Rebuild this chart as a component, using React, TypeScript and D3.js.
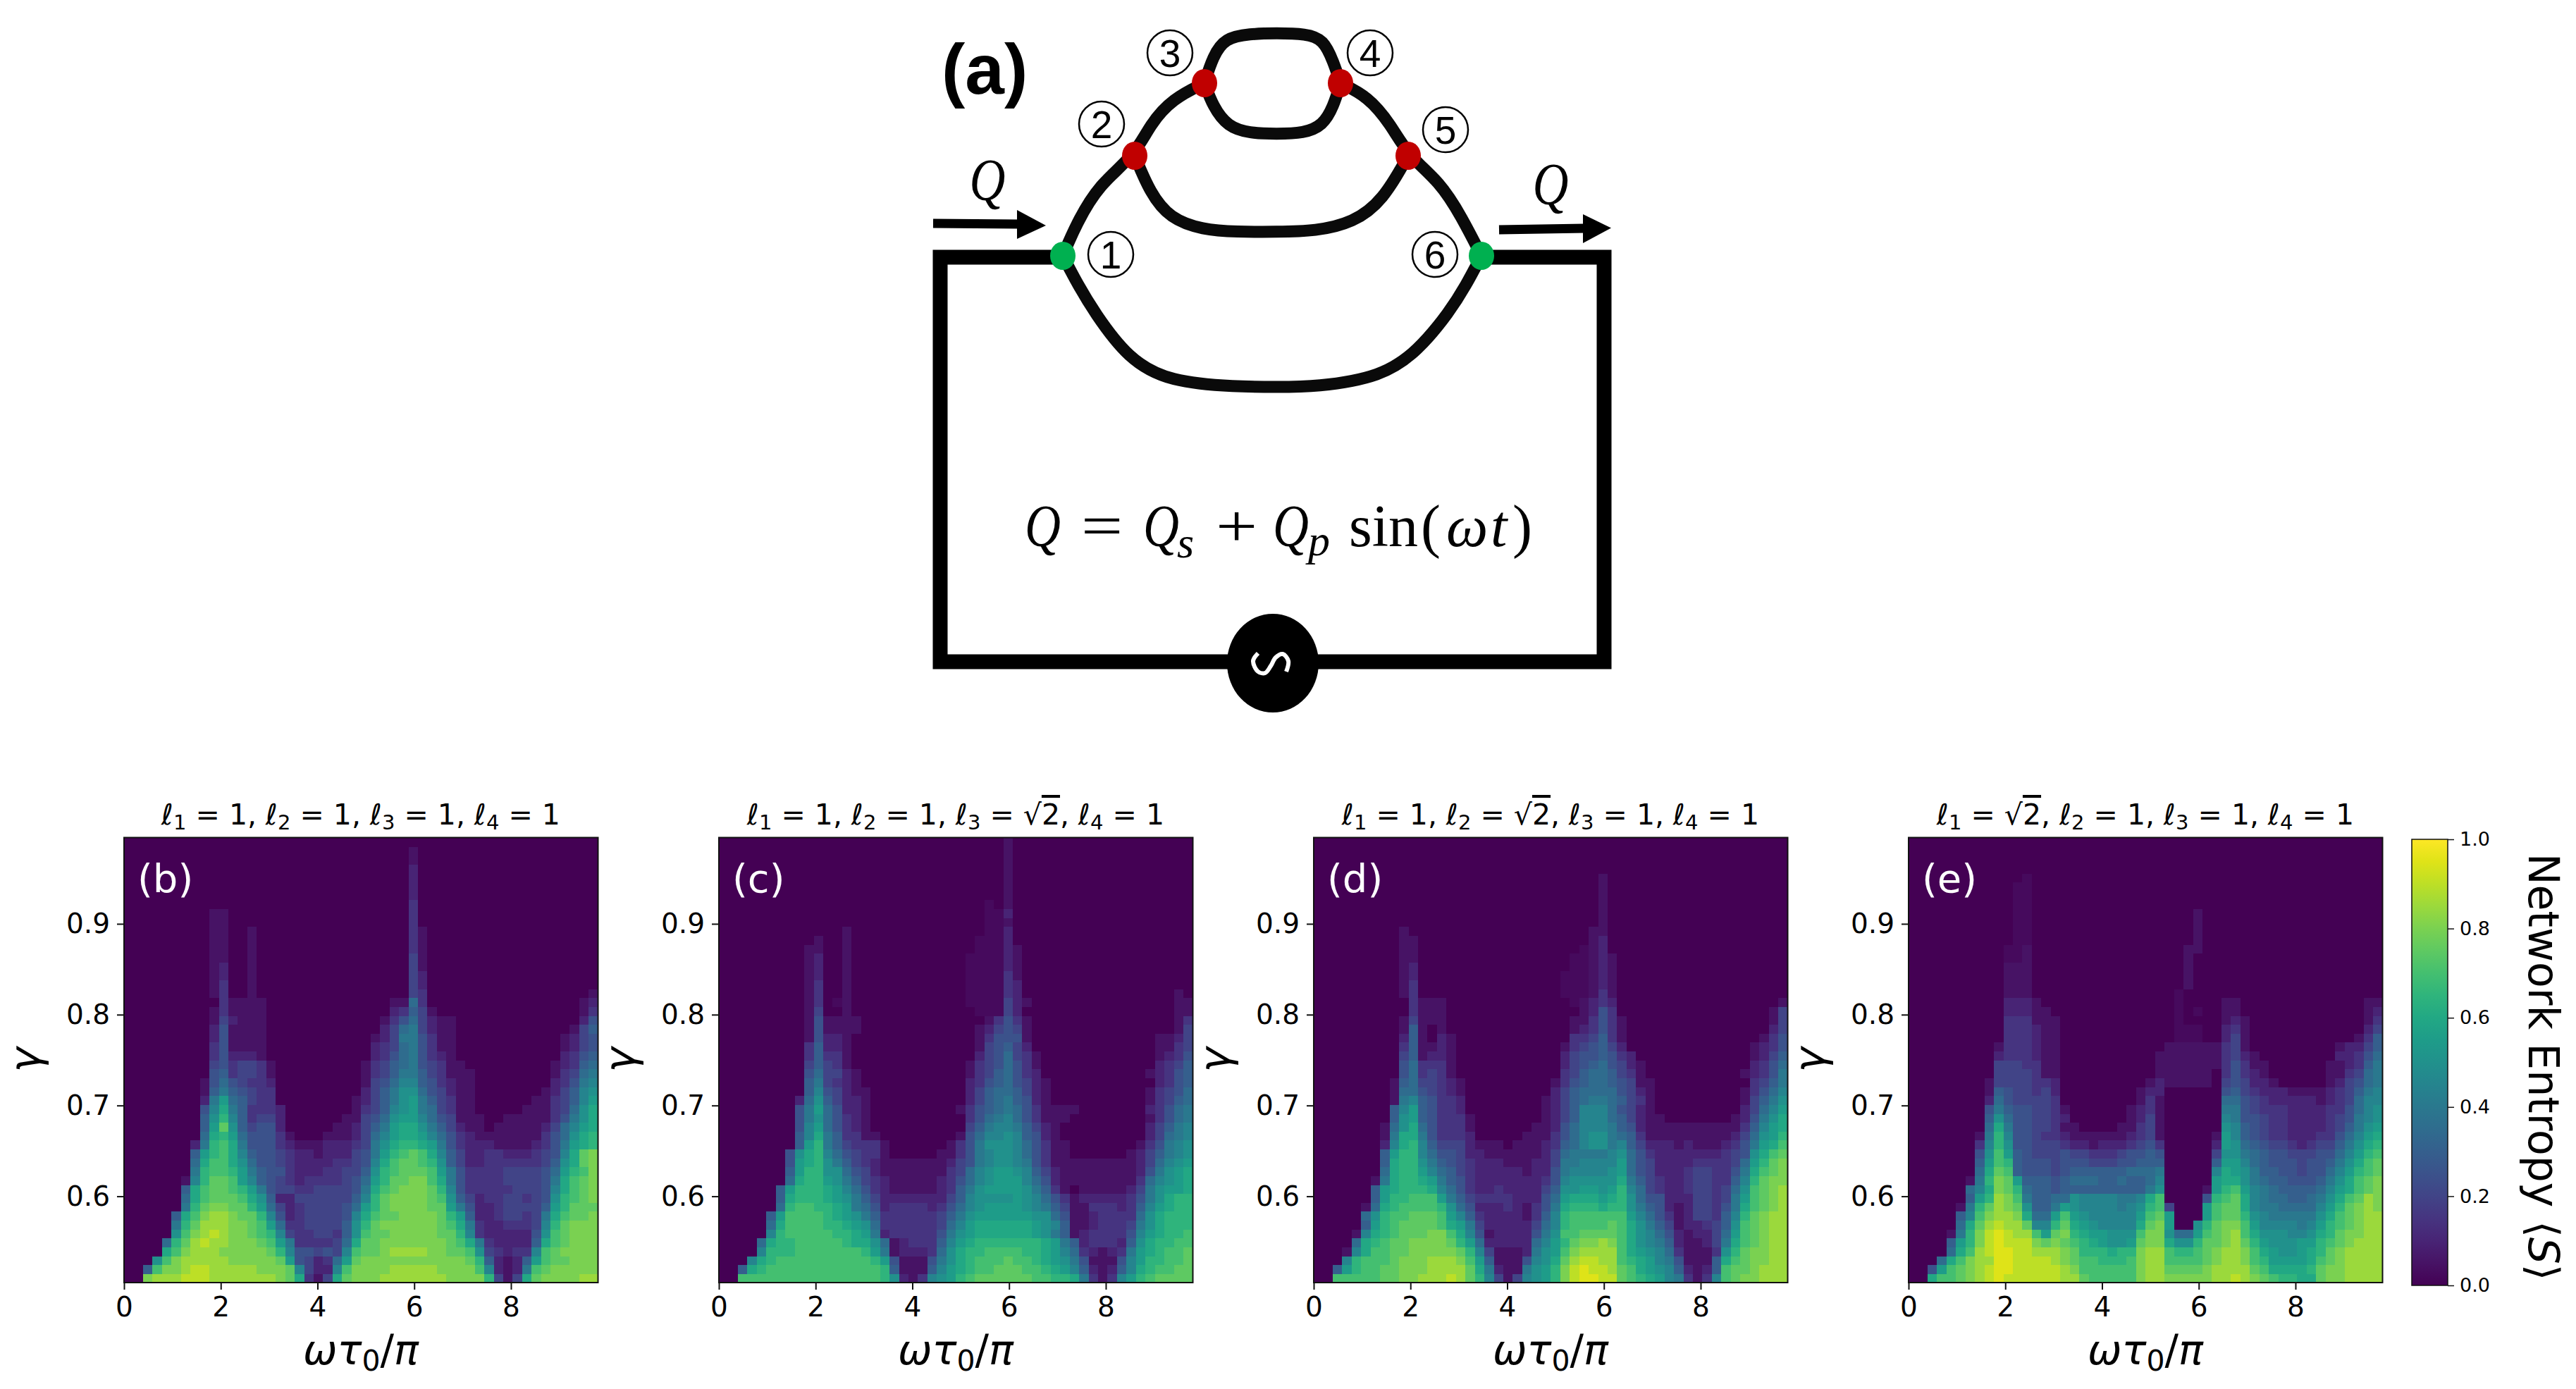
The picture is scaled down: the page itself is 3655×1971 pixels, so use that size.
import { useEffect, useRef } from 'react'
import * as d3 from 'd3'

const W = 3655
const H = 1971

// entropy levels: '.'=0, ','=.025, a=.05, b=.10 ... s=.95, one letter per cell
const LEVELS = '.abcdefghijklmnopqrs'
const NCOL = 50
const NROW = 50

// rows go from the bottom of the map (gamma 0.505) upward, groups of 10 columns
const ROWS_B = [
  '..pqqqrrrq qqqqqqpolc adlopppqqq qqqqppppmd adloppppqq',
  '..fnppqrrq qqqqpppoid bbinppppqq qqqppppnib abhnoppppp',
  '...jnpqqqq qpppppoked bcgkoppppp ppppppomfb abfknooppp',
  '....lnpqqq pppppomiee dedinoopqq qqppoonjdc bccinopppp',
  '....gmoqrq qppponkhcc ccdglooppp pppponlhcb bbbflnoppp',
  '.....jnpqr qpponmidcc ddcfjnoopp pppoomicbb bbbejnoppp',
  '.....hmoqq qpponkgccd dddfjmoppp ppponlhcbb cccdimoppp',
  '.....flnpq qpoomiebcd dddeilnoop pppomkfbbc ddcdhlnoop',
  '......hmop poomkgdbcd dddegkmopp ppookhebbc ddddfkmooo',
  '......glno oonljfbbdd ddddfimopp pponjfdbcc ddcdejmnop',
  '......flno onmkheddcc ddddehlnop ppomiecccc cdddeilnop',
  '......aimo onkifedcbc cccdegkmoo ppnlhecccc ddddehlnop',
  '.......hmn nmkhfeecbb bccddfjmno oonkhecccc ddddegkmnp',
  '.......gln nljgeedcbb bbccdeilno onmjfdbbcc ccccdfjlop',
  '.......fkm nlifeedcbb abbbdehkmn onlifdbbcc bbbcdeilop',
  '.......bhm nlheeecbaa abbbcdhjlm mlkhecbbba aaabcehklm',
  '........gl mkgeeeca.. .aaabdgikl lkigecbaaa aaaacegjlm',
  '........fk ojfdeeb... ..aabdfhkl ljhfdbaa.a aaaabdgikl',
  '........fj mifcddb... ...aadegjk kigedaaa.. aaaaacehjl',
  '........ei lhfcccb... ....acdfij khgdcaa... ..aaacdgjl',
  '........bh kgfdcc.... ....abdfhj khfdcaa... ...aacdfik',
  '........af hfedcc.... .....bdfhj jgedbaa... ....abdfij',
  '........ae gedccb.... .....adegi ifecbaa... .....bcehi',
  '.........e fcddca.... .....acdfh hfdcaaa... .....acdgh',
  '.........d ecddca.... .....acdfg hedcaa.... .....abcfg',
  '.........c ebbba..... ......bceg hecba..... ......bcef',
  '.........c eaaaa..... ......bcdg hecaa..... ......abde',
  '.........b eaaaa..... ......abdh hecaa..... ......abde',
  '.........b eaaaa..... .......bdg hdbaa..... .......adf',
  '.........a dbaaa..... .......ace gdbaa..... ........be',
  '.........a caaaa..... ........bc fda....... ........ac',
  '. caaaa..... ........aa gc........ ........ab',
  '.........a c..a...... . dc........ .........a',
  '.........a c..a...... . db........ .',
  '.........a b..a...... . db........ .',
  '.........a b..a...... . da........ .',
  '.........a a..a...... . da........ .',
  '.........a a..a...... . ca........ .',
  '.........a a..a...... . ca........ .',
  '.........a a..a...... . ca........ .',
  '.........a a......... . c......... .',
  '.........a a......... . c......... .',
  '. . . c......... .',
  '. . . b......... .',
  '. . . b......... .',
  '. . . b......... .',
  '. . . b......... .',
  '. . . a......... .',
  '. . . a......... .',
  '. . . . .',
]

const ROWS_C = [
  '..nnnnnnnn nnnnnnnmjb acijkmnooo ooonnmmlhc acikmnoooo',
  '..flmnnnnn nnnnnnnmfa aafiklmnno oonnmlkifb abfilmnnoo',
  '...ilmnnnn nnnnnnmkea aaehjlmnnn onnmlkjhea aaeikmmnno',
  '....immmnn nnnnnmkhab bbcgjlmmnn nnmmlkigcb abchklmnno',
  '....glmmnn nnnmlljgab cccfiklmmm mmmmlkhfbc ccbfjlmmnn',
  '.....imnnn nnmmlkhbcc cccehjklll lllkjhfabc ccceiklmmn',
  '.....glnnn nmmlkjgccc cccdgiklll lllkjifaab cccdhjlmmm',
  '.....fknnn nmlkjhfccc cccdfhjkkk kkkjjgeaab ccccgjlmmm',
  '......gmnn mmlkhgebcc ccbcegijkk kkjihfdaac ccbcfiklmm',
  '......flmm mlkjhfdbbb bbbbdfijjj jkjigecabb bbbcehjlmm',
  '......fkmm mlkigecbaa aaabcfhjkk kkjhfca.aa aaabdhjkkl',
  '.......glm mkjhfdcbaa aaabcegijk kkigebaaaa aaaacgijkl',
  '.......fkm mjjgedbaaa aaaacdgijk kjifdbaaaa aaaabehjkl',
  '.......ekl mjhfdcbaaa aaaabdehij jihecaaaaa aaaabdgijk',
  '.......ejl migedcca.. ...aacehij jigecaa... ...abdfhij',
  '........fk mhfdccca.. ....acehjj jigecaa... ....acehij',
  '........fi lhfccaa... .....aegii jifeba.... .....bdghi',
  '........ei kgecba.... ......dfhi ihfdba.... .....bdfhi',
  '........eh jgecba.... ......cegh igecaaa... .....acegh',
  '........eh kgebba.... .....acefg hgecaaaa.. .....bcegh',
  '........bg jfdbba.... ......bdfg hfeba..... .....acdfg',
  '.........f iedbaa.... ......bdfg gfdba..... .....acdeg',
  '.........f hdcba..... ......bcef gedba..... ......bcef',
  '.........e gddba..... ......acdf gecb...... .....abcef',
  '.........d fdca...... ......acde geca...... ......bcdf',
  '.........c fcca...... .......bde gdca...... ......abce',
  '.........c fbba...... .......ade fdb....... ......aacd',
  '.........a ebba...... .......ace eea....... ......aabd',
  '.........a eaaaa..... .......abd eda....... ........ad',
  '.........a eaaaa..... ........ac eca....... ........ac',
  '.........a d..a...... .......,,, db........ ........aa',
  '.........a c.,a...... ......,,,, dba....... ........aa',
  '.........a c..a...... ......,,,, cb........ ........a.',
  '.........a c..a...... ......,,,, cb........ .',
  '.........a b..a...... ......,,,, ca........ .',
  '.........a b..a...... ......,,,, ba........ .',
  '.........a b..a...... ......,,,, ba........ .',
  '.........a a..a...... .......,,, ba........ .',
  '. a..a...... .......,,, b......... .',
  '. ...a...... ........,, b......... .',
  '. . ........,, a......... .',
  '. . ........,, b......... .',
  '. . ........,. a......... .',
  '. . . a......... .',
  '. . . a......... .',
  '. . . a......... .',
  '. . . a......... .',
  '. . . a......... .',
  '. . . a......... .',
  '. . . a......... .',
]

const ROWS_D = [
  '..nnnnnoop pqqqrqomid adijkmprss rronmlkihc acinoppqqq',
  '..fkmnnoop ppqqqqolhb aahjkmprsr rqonlkjifb abfnoopqqq',
  '...imnnnop ppqqqpnkfa aaeijloqrr qqnmlkihea aaflnoppqq',
  '...ailnnoo pppppomida aabhjknpqq qqnlkjigca aacjmoppqq',
  '....glmnoo ppppomkgbb bbbgikmopp qpnljihfba abdhlnopqq',
  '....ailmno ooppnlieab bbbehjnnoo oonljigeba bbdgknopqq',
  '.....fkmno ooonlkhdbb bbbdgimnnn nonljhfdab bcdfjnopqq',
  '.....gjmnn ooonkifcbb bbacfimnnn nnnkigecab ddcfimopqq',
  '.....aglmn nnnmjgebbb cbacehlmmm lmmjhfebab ddcehlnopq',
  '......fkmm nnnkhfdccc cbbbegklll klmjgeebbb ddcdhknopq',
  '......fklm mmligecbbc bbbbdfjjkk jkmigdcbbc ddcdgjnopq',
  '......ahlm mlkhfecbbb bbbbceijjj jjlhfdcbbc ddccfimopp',
  '.......glm mkigfdcbbb bbabbehiii ijkgedbbbc ddccehlnop',
  '.......flm mjhfedcbbb aaabbdhhii iikgedbbbb ccccdgkmop',
  '.......fkm migeedbbaa aaaabdghhh hijgecbbbb bbbcdejlno',
  '.......bil mifdddbaaa .aaabcfgij jhifdbbbab aaabcehkln',
  '.......ahl lhecccb... ..aaacegij jhgfcaaaaa aaaabdgjkm',
  '.......agj lgeccca... ...aabegii ihfebaaaaa aaaaacfikl',
  '........fj kfeccca... ....abdfii igfdbaa... ....abehjl',
  '........fi kfeccb.... ....abdfii igedba.... .....bdgik',
  '........ah ifeccb.... ....abdfgh hgfdca.... .....adfhj',
  '........ag gedcba.... .....bdfgg ggedba.... .....acegi',
  '........af gddcba.... .....acefg gfedaa.... ......cdfh',
  '.........e gcdca..... ......cdfg gfdca..... .....abceh',
  '.........e gccca..... ......bdef gedba..... ......bceg',
  '.........d fabba..... ......bdee fecb...... ......abdf',
  '.........c faaba..... ......acde fdb....... ......abce',
  '.........b fa.ba..... .......ccd fca....... .......ace',
  '.........a fa.a...... .......abc eca....... ........bd',
  '.........a daaa...... .......aac eca....... ........ad',
  '. caaa...... ........ab ec........ ........ad',
  '. caaa...... .......,ab cb........ .........a',
  '.........a c......... ......,,,a ca........ .',
  '.........a c......... ......,,,a ba........ .',
  '.........a b......... ......,,,a ba........ .',
  '.........a b......... .......,,a ba........ .',
  '.........a a......... .......,,a ba........ .',
  '.........a a......... ........,a b......... .',
  '.........a a......... .........a b......... .',
  '.........a . .........a a......... .',
  '. . . a......... .',
  '. . . a......... .',
  '. . . a......... .',
  '. . . a......... .',
  '. . . a......... .',
  '. . . a......... .',
  '. . . . .',
  '. . . . .',
  '. . . . .',
  '. . . . .',
]

const ROWS_E = [
  '..lnnopqrs rrrrrrqqon nnnnpqqppp ppqqrqponm mlloppqqqq',
  '..eknopqrs srrrrrqpnn nnnnpqqooo opqqqqonll llmoppqqqq',
  '...glnpqqs srrrrqponn mmmnpqqnnn nopqqpnmkk kklnopqqqq',
  '....glnqrs srrqqqpomm mlmmpqqnmm nopqqpnlkj jklmopqqqq',
  '....fkmprs rrrpoponml kjjkoppljj moopqomkjj jkkmnopqqq',
  '....ahmprs rqqnkopmlk kjjjnppjgg knopqnljjj iijlmoppqq',
  '.....gloqr qqoiimolkj iiiilopk.. jmoppnkiii ihikmnopqq',
  '.....finpq qplggknkji iiiiknok.. .knoomjihh hhhjlnopqq',
  '.....ahmoq pojffhkjii iihijmnd.. .knoolihhg gggikmopqp',
  '......fkmq pnhffggjii iihhiln... .emnolihgg ffghjlnoqp',
  '......gilp omgffeffff fffffhj... .akmnkihgf fffgiklnop',
  '......ahmp okfffefggg ffgffgi... ..klljhgff eeefhjlnop',
  '.......glo nfeeedefff fffgggh... ..ilkjhffe edeegikmno',
  '.......fkn mfeeedeeed ddeefff... ..fkkigfee edeefhjlno',
  '.......ejn kfedddeddc ccdeefe... ..djjhgfee dddeegikmn',
  '.......cim jeedddcbba bbbcdec... ..bkjgfedd cbcddfhjlm',
  '.......ahm ieedccbaaa aaabcda... ..akifedcc bbbccegikl',
  '........gl heeddcaa.. ..aacda... ...jifedcc bbbbcdfhjk',
  '........fj geeddcb... ...abda... ...iheedcc bbbbcdehij',
  '........eh feeddca... ...abca... ...hhedccc bbbbccegij',
  '........bg eddddc.... ....aca... ...ggedcbb bbbabcdgii',
  '........af eddcdb.... ....abb... ...efdcbbb aaaabcdfhi',
  '........ad dddccb.... .....abaaa aa.dedbba. ....abdegh',
  '.........d dddcaa.... ......aaaa aa.cecba.. ....aacdgh',
  '.........d ddccaa.... ......aaaa aaacecaa.. ....aabcfh',
  '.........b cccbaa.... ......aaaa aaacdba... .....bbceg',
  '.........a cccbaa.... .......aaa aaacda.... .....abbdf',
  '. cccbaa.... ........,, ,..bda.... .......acf',
  '. cccbaa.... ........,, ,..bca.... ........bd',
  '. cccaaa.... ........,. ...aba.... ........ac',
  '. bbbaa..... ........,. ,..aa..... ........ab',
  '. bbba...... ........,. ...aa..... ........aa',
  '. aaa....... ........,. .',
  '. aaa....... .........a .',
  '. aaa....... .........a .',
  '. aaa....... .........a .',
  '. ,,a....... .........a .',
  '. ,,a....... .........a a......... .',
  '. .,,....... . a......... .',
  '. .,,....... . a......... .',
  '. .,,....... . a......... .',
  '. .,,....... . a......... .',
  '. .,,....... . .',
  '. .,,....... . .',
  '. .,,....... . .',
  '. ..,....... . .',
  '. . . . .',
  '. . . . .',
  '. . . . .',
  '. . . . .',
]

const PANEL_ROWS = [ROWS_B, ROWS_C, ROWS_D, ROWS_E]
const PANEL_TAGS = ['(b)', '(c)', '(d)', '(e)']
const PANEL_L = [
  ['1', '1', '1', '1'],
  ['1', '1', 'r2', '1'],
  ['1', 'r2', '1', '1'],
  ['r2', '1', '1', '1'],
]
const PANEL_LEFT = [176, 1020, 1864, 2708]
const X_TICKS = [0, 2, 4, 6, 8]
const Y_TICKS = [0.6, 0.7, 0.8, 0.9]
const CB_TICKS = [0, 0.2, 0.4, 0.6, 0.8, 1]

// circuit sketch, page pixels (control points of a basis curve)
const LOOP_BOTTOM = [[1508,363],[1530,405],[1552,442],[1601,510],[1660,542],[1755,549],[1811,549],[1867,549],[1960,535],[2012,498],[2057,442],[2080,405],[2102,363]]
const ARC_LEFT = [[1508,363],[1527,318],[1559,262],[1610,221],[1632,176],[1664,140],[1709,118]]
const ARC_RIGHT = [[1902,118],[1941,137],[1973,176],[1998,221],[2043,258],[2074,308],[2102,363]]
const LOOP_TOP = [[1709,118],[1721,80],[1738,54],[1773,48],[1811,47],[1853,48],[1878,56],[1892,88],[1902,118]]
const LOOP_INNER = [[1709,118],[1721,151],[1742,180],[1773,189],[1811,190],[1850,189],[1877,178],[1892,151],[1902,118]]
const LOOP_MIDDLE = [[1610,221],[1632,274],[1660,310],[1706,326],[1755,329],[1811,329],[1867,328],[1920,316],[1962,285],[1998,221]]
const WIRE = [[1508,365],[1334,365],[1334,939],[2276,939],[2276,365],[2102,365]]
const SINE = [[1785,927],[1778,938],[1785,953],[1795,955],[1803,945],[1810,933],[1820,928],[1828,938],[1825,953]]
const NODES = [
  { x: 1508, y: 363, fill: '#00b050' },
  { x: 1610, y: 221, fill: '#c00000' },
  { x: 1709, y: 118, fill: '#c00000' },
  { x: 1902, y: 118, fill: '#c00000' },
  { x: 1998, y: 221, fill: '#c00000' },
  { x: 2102, y: 363, fill: '#00b050' },
]
const CIRCLED = [
  { t: '1', x: 1576, y: 361 },
  { t: '2', x: 1563, y: 176 },
  { t: '3', x: 1660, y: 75 },
  { t: '4', x: 1944, y: 75 },
  { t: '5', x: 2051, y: 184 },
  { t: '6', x: 2036, y: 361 },
]
const EQUATION = [
  { t: 'Q', x: 1454, y: 775, size: 84, it: true, sx: 0.84 },
  { t: '=', x: 1534, y: 775, size: 84, it: false, sx: 1.25 },
  { t: 'Q', x: 1622, y: 775, size: 84, it: true, sx: 0.84 },
  { t: 's', x: 1670, y: 791, size: 62, it: true, sx: 1 },
  { t: '+', x: 1725, y: 775, size: 84, it: false, sx: 1.25 },
  { t: 'Q', x: 1806, y: 775, size: 84, it: true, sx: 0.84 },
  { t: 'p', x: 1856, y: 788, size: 62, it: true, sx: 1 },
  { t: 'sin', x: 1914, y: 775, size: 84, it: false, sx: 1 },
  { t: '(', x: 2016, y: 775, size: 84, it: false, sx: 1 },
  { t: 'ω', x: 2052, y: 775, size: 84, it: true, sx: 1 },
  { t: 't', x: 2115, y: 775, size: 84, it: true, sx: 1 },
  { t: ')', x: 2146, y: 775, size: 84, it: false, sx: 1 },
]

const SANS = '"DejaVu Sans"'
const SERIF = '"Liberation Serif"'

function decodeRow(row: string): number[] {
  const cells = row.split(' ').map(g => g.padEnd(10, '.').slice(0, 10)).join('').padEnd(NCOL, '.')
  return Array.from(cells.slice(0, NCOL)).map(c => (c === ',' ? 0.025 : Math.max(0, LEVELS.indexOf(c)) * 0.05))
}

function drawPanel(root: d3.Selection<SVGSVGElement, unknown, null, undefined>, idx: number) {
  const left = PANEL_LEFT[idx]
  const top = 1188.5
  const bottom = 1820
  const x = d3.scaleLinear().domain([0, 9.8]).range([left, left + 672.5])
  const y = d3.scaleLinear().domain([0.505, 0.995]).range([bottom, top])
  const colX = d3.scaleLinear().domain([0, NCOL]).range(x.domain())
  const rowY = d3.scaleLinear().domain([0, NROW]).range(y.domain())
  const g = root.append('g')

  const cells: { c: number; r: number; v: number }[] = []
  PANEL_ROWS[idx].forEach((row, r) => {
    decodeRow(row).forEach((v, c) => cells.push({ c, r, v }))
  })
  g.append('g').attr('shape-rendering', 'crispEdges')
    .selectAll('rect').data(cells).join('rect')
    .attr('x', d => x(colX(d.c)))
    .attr('y', d => y(rowY(d.r + 1)))
    .attr('width', d => x(colX(d.c + 1)) - x(colX(d.c)) + 0.5)
    .attr('height', d => y(rowY(d.r)) - y(rowY(d.r + 1)) + 0.5)
    .attr('fill', d => d3.interpolateViridis(d.v))

  g.append('rect').attr('x', left).attr('y', top).attr('width', 672.5).attr('height', bottom - top)
    .attr('fill', 'none').attr('stroke', '#111').attr('stroke-width', 2)

  const xAxis = g.append('g').attr('transform', `translate(0,${bottom})`)
    .call(d3.axisBottom(x).tickValues(X_TICKS).tickFormat(d3.format('d')).tickSize(10).tickPadding(10).tickSizeOuter(0))
  const yAxis = g.append('g').attr('transform', `translate(${left},0)`)
    .call(d3.axisLeft(y).tickValues(Y_TICKS).tickFormat(d3.format('.1f')).tickSize(10).tickPadding(10).tickSizeOuter(0))
  for (const a of [xAxis, yAxis]) {
    a.select('.domain').remove()
    a.selectAll('line').attr('stroke', '#111').attr('stroke-width', 2)
    a.selectAll('text').attr('font-family', SANS).attr('font-size', 39).attr('fill', '#000')
  }

  g.append('text').attr('x', left + 19).attr('y', 1266).attr('fill', '#fff')
    .attr('font-family', SANS).attr('font-size', 56).text(PANEL_TAGS[idx])

  // axis labels
  const xl = g.append('text').attr('x', left + 336).attr('y', 1936).attr('text-anchor', 'middle')
    .attr('font-family', SANS).attr('font-size', 58).attr('font-style', 'italic')
  xl.append('tspan').text('ωτ')
  xl.append('tspan').attr('dy', 9).attr('font-size', 41).attr('font-style', 'normal').text('0')
  xl.append('tspan').attr('dy', -9).attr('font-style', 'normal').text('/')
  xl.append('tspan').text('π')
  g.append('text').attr('transform', `translate(${left - 120},1504) rotate(-90)`).attr('text-anchor', 'middle')
    .attr('font-family', SANS).attr('font-size', 60).attr('font-style', 'italic').text('γ')

  // title
  const title = g.append('text').attr('x', left + 336).attr('y', 1170).attr('text-anchor', 'middle')
    .attr('font-family', SANS).attr('font-size', 41)
  PANEL_L[idx].forEach((val, i) => {
    title.append('tspan').attr('font-style', 'italic').text('ℓ')
    title.append('tspan').attr('dy', 7).attr('font-size', 29).text(String(i + 1))
    title.append('tspan').attr('dy', -7).text(' = ')
    if (val === 'r2') {
      title.append('tspan').text('√')
      title.append('tspan').style('text-decoration', 'overline').text('2')
    } else {
      title.append('tspan').text(val)
    }
    if (i < 3) title.append('tspan').text(', ')
  })
}

function drawColorbar(root: d3.Selection<SVGSVGElement, unknown, null, undefined>) {
  const x0 = 3422
  const x1 = 3473
  const y = d3.scaleLinear().domain([0, 1]).range([1824, 1191])
  const defs = root.append('defs')
  const grad = defs.append('linearGradient').attr('id', 'cb').attr('x1', 0).attr('x2', 0).attr('y1', 1).attr('y2', 0)
  d3.range(0, 1.001, 0.05).forEach(t => {
    grad.append('stop').attr('offset', t).attr('stop-color', d3.interpolateViridis(t))
  })
  root.append('rect').attr('x', x0).attr('y', y(1)).attr('width', x1 - x0).attr('height', y(0) - y(1))
    .attr('fill', 'url(#cb)').attr('stroke', '#111').attr('stroke-width', 1.5)
  const axis = root.append('g').attr('transform', `translate(${x1},0)`)
    .call(d3.axisRight(y).tickValues(CB_TICKS).tickFormat(d3.format('.1f')).tickSize(9).tickPadding(8).tickSizeOuter(0))
  axis.select('.domain').remove()
  axis.selectAll('line').attr('stroke', '#111').attr('stroke-width', 1.5)
  axis.selectAll('text').attr('font-family', SANS).attr('font-size', 27).attr('fill', '#000')
  const label = root.append('text').attr('transform', 'translate(3588,1514) rotate(90)').attr('text-anchor', 'middle')
    .attr('font-family', SANS).attr('font-size', 60)
  label.append('tspan').text('Network Entropy ⟨')
  label.append('tspan').attr('font-style', 'italic').text('S')
  label.append('tspan').text('⟩')
}

function drawCircuit(root: d3.Selection<SVGSVGElement, unknown, null, undefined>) {
  const g = root.append('g')
  const smooth = d3.line().curve(d3.curveBasis)
  const curve = d3.line().curve(d3.curveCatmullRom.alpha(0.5))
  const straight = d3.line()
  g.append('path').attr('d', straight(WIRE as [number, number][])).attr('fill', 'none')
    .attr('stroke', '#000').attr('stroke-width', 21).attr('stroke-linejoin', 'miter')
  for (const pts of [LOOP_BOTTOM, ARC_LEFT, ARC_RIGHT, LOOP_TOP, LOOP_INNER, LOOP_MIDDLE]) {
    g.append('path').attr('d', smooth(pts as [number, number][])).attr('fill', 'none')
      .attr('stroke', '#0a0a0a').attr('stroke-width', 17).attr('stroke-linecap', 'round')
  }
  g.append('ellipse').attr('cx', 1806).attr('cy', 941).attr('rx', 65).attr('ry', 70).attr('fill', '#000')
  g.append('path').attr('d', curve(SINE as [number, number][])).attr('fill', 'none')
    .attr('stroke', '#fff').attr('stroke-width', 6)

  // flow arrows
  g.append('line').attr('x1', 1324).attr('y1', 317).attr('x2', 1445).attr('y2', 318).attr('stroke', '#000').attr('stroke-width', 13)
  g.append('path').attr('d', 'M1443,298L1484,320L1443,339Z').attr('fill', '#000')
  g.append('line').attr('x1', 2127).attr('y1', 326).attr('x2', 2248).attr('y2', 324).attr('stroke', '#000').attr('stroke-width', 13)
  g.append('path').attr('d', 'M2246,304L2286,323.5L2246,345Z').attr('fill', '#000')

  g.selectAll('ellipse.node').data(NODES).join('ellipse')
    .attr('class', 'node')
    .attr('cx', d => d.x).attr('cy', d => d.y).attr('rx', 18).attr('ry', 20).attr('fill', d => d.fill)

  g.selectAll('circle.num').data(CIRCLED).join('circle')
    .attr('class', 'num')
    .attr('cx', d => d.x).attr('cy', d => d.y).attr('r', 32).attr('fill', '#fff').attr('stroke', '#000').attr('stroke-width', 2.5)
  g.selectAll('text.num').data(CIRCLED).join('text')
    .attr('class', 'num')
    .attr('x', d => d.x).attr('y', d => d.y + 20).attr('text-anchor', 'middle')
    .attr('font-family', '"Liberation Sans"').attr('font-size', 55).text(d => d.t)

  g.append('text').attr('x', 1336).attr('y', 133).attr('font-family', '"Liberation Sans"')
    .attr('font-weight', 'bold').attr('font-size', 100).text('(a)')

  for (const q of [{ x: 1401, y: 284 }, { x: 2200, y: 290 }]) {
    g.append('text').attr('transform', `translate(${q.x},${q.y}) scale(0.84,1)`).attr('text-anchor', 'middle')
      .attr('font-family', SERIF).attr('font-style', 'italic').attr('font-size', 84).text('Q')
  }

  g.selectAll('text.eq').data(EQUATION).join('text')
    .attr('class', 'eq')
    .attr('transform', d => `translate(${d.x},${d.y}) scale(${d.sx},1)`)
    .attr('font-family', SERIF).attr('font-size', d => d.size)
    .attr('font-style', d => (d.it ? 'italic' : 'normal')).text(d => d.t)
}

export default function App(): JSX.Element {
  const ref = useRef<SVGSVGElement>(null)

  useEffect(() => {
    if (!ref.current) return
    const root = d3.select(ref.current)
    root.selectAll('*').remove()
    drawCircuit(root)
    PANEL_LEFT.forEach((_, i) => drawPanel(root, i))
    drawColorbar(root)
  }, [])

  return (
    <svg
      ref={ref}
      width={W}
      height={H}
      viewBox={`0 0 ${W} ${H}`}
      style={{ position: 'absolute', left: 0, top: 0, background: '#fff' }}
    />
  )
}
